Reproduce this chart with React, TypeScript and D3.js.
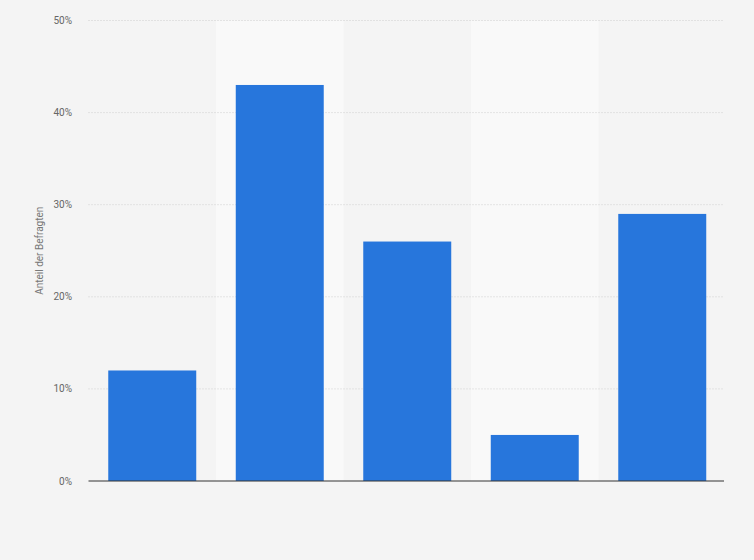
import React from "react";
import * as d3 from "d3";

const categories = ["A", "B", "C", "D", "E"];
const values = [12, 43, 26, 5, 29];
const yTicks = [0, 10, 20, 30, 40, 50];
const yTitle = "Anteil der Befragten";

const W = 754;
const H = 560;
const margin = { left: 88.5, right: 28, top: 20.5, bottom: 79 };

export default function App() {
  const x = d3
    .scaleBand<string>()
    .domain(categories)
    .range([margin.left, W - margin.right])
    .paddingInner(0)
    .paddingOuter(0);
  const y = d3
    .scaleLinear()
    .domain([0, 50])
    .range([H - margin.bottom, margin.top]);
  const bw = x.bandwidth() * 0.69;

  return (
    <svg
      width={W}
      height={H}
      style={{ position: "absolute", left: 0, top: 0, display: "block" }}
      fontFamily="Roboto, Arial, sans-serif"
    >
      <rect x={0} y={0} width={W} height={H} fill="#f4f4f4" />
      {categories.map((c, i) =>
        i % 2 === 1 ? (
          <rect
            key={"band" + c}
            x={x(c)}
            y={y(50)}
            width={x.bandwidth()}
            height={y(0) - y(50)}
            fill="#f9f9f9"
          />
        ) : null
      )}
      {yTicks.map((t) => (
        <g key={"t" + t}>
          {t > 0 && (
            <line
              x1={margin.left}
              x2={W - 30}
              y1={y(t)}
              y2={y(t)}
              stroke="#cfcfcf"
              strokeWidth={1}
              strokeDasharray="1,2"
            />
          )}
          <text
            x={72}
            y={y(t)}
            dy="0.35em"
            textAnchor="end"
            fontSize={10}
            fill="#666"
          >
            {t + "%"}
          </text>
        </g>
      ))}
      {categories.map((c, i) => (
        <rect
          key={"bar" + c}
          x={(x(c) as number) + (x.bandwidth() - bw) / 2}
          y={y(values[i])}
          width={bw}
          height={y(0) - y(values[i])}
          fill="#2776dc"
        />
      ))}
      <line
        x1={margin.left}
        x2={W - 30}
        y1={y(0)}
        y2={y(0)}
        stroke="#333"
        strokeWidth={1.2}
      />
      <text
        transform={`translate(43,${(y(0) + y(50)) / 2}) rotate(-90)`}
        textAnchor="middle"
        fontSize={10}
        fill="#777"
      >
        {yTitle}
      </text>
    </svg>
  );
}
